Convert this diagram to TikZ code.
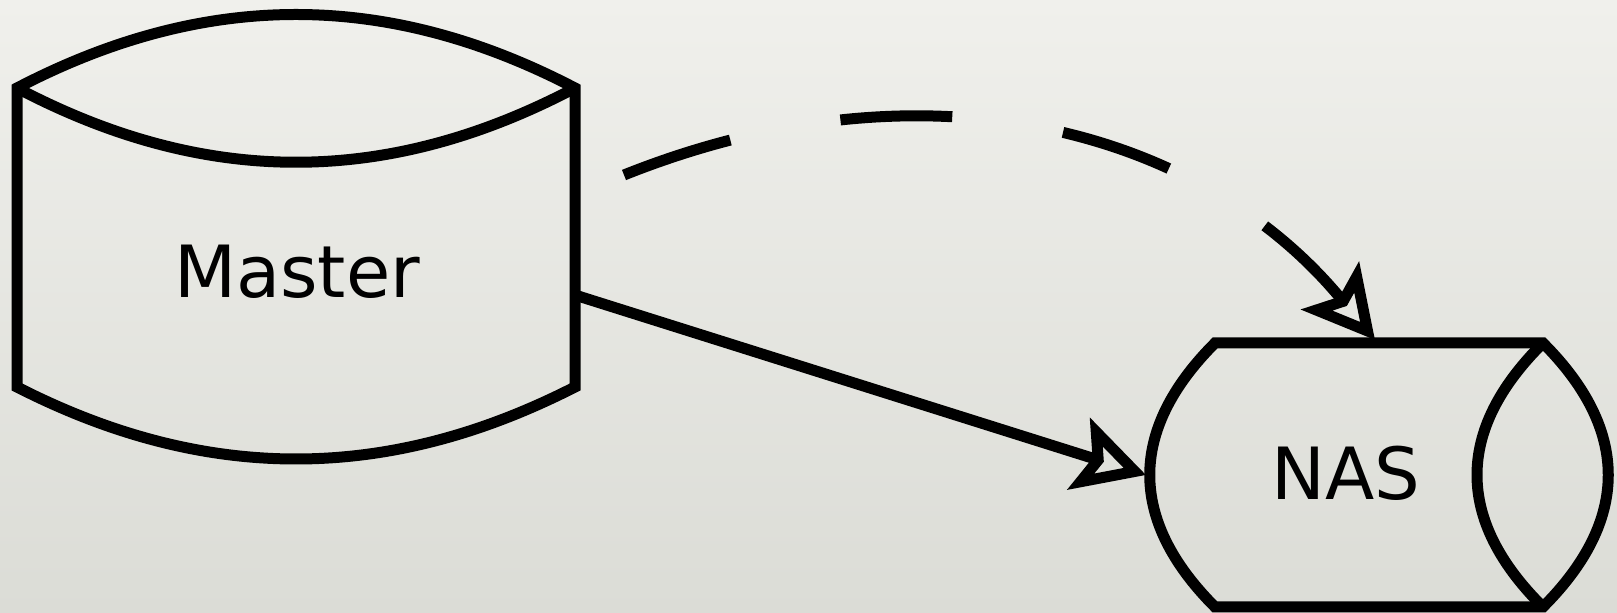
\documentclass[tikz,border=0pt]{standalone}
\usepackage{fontspec}
\setmainfont{DejaVu Sans}
\usetikzlibrary{arrows.meta,calc}
\definecolor{bgtop}{RGB}{240,240,236}
\definecolor{bgbot}{RGB}{219,220,214}
\begin{document}
\begin{tikzpicture}[x=0.5pt,y=-0.5pt,
  shapeline/.style={draw=black, line width=5.5pt, line join=miter},
  lbl/.style={font=\fontsize{36}{43}\selectfont, inner sep=0pt},
  frame/.style={inner sep=0pt, outer sep=0pt, draw=none},
  tipstyle/.style={draw=black, line width=5.5pt, line join=miter, -{Stealth[open, length=35pt, width=37pt, inset=7pt]}},
  ]
\shade[top color=bgtop, bottom color=bgbot] (0,0) rectangle (1617,613);
\useasboundingbox (0,0) rectangle (1617,613);
% frames
\node[frame, minimum width=279pt, minimum height=149.5pt] (master) at (296,237.5) {};
\node[frame, minimum width=229pt, minimum height=132pt] (nas) at (1379,475) {};
% Master cylinder
\draw[shapeline] (17,88) .. controls (205,-10) and (387,-10) .. (575,88)
  -- (575,387) .. controls (387,483) and (205,483) .. (17,387) -- cycle;
\draw[shapeline] (17,88) .. controls (205,187) and (387,187) .. (575,88);
% NAS cylinder
\draw[shapeline] (1215,343) -- (1543,343) .. controls (1630,430) and (1630,520) .. (1543,607)
  -- (1215,607) .. controls (1128,520) and (1128,430) .. (1215,343) -- cycle;
\draw[shapeline] (1543,343) .. controls (1455,430) and (1455,520) .. (1543,607);
% labels
\node[lbl] (mastertext) at (297,272) {Master};
\node[lbl] (nastext) at (1346,473) {NAS};
% connectors
\coordinate (dstart) at (624,175);
\draw[tipstyle] ($(master.east)+(3,58.5)$) -- ($(nas.west)+(-4,0)$);
\draw[tipstyle, dash pattern=on 56pt off 56pt] (dstart) .. controls (924,55) and (1200,128) .. ($(nas.north)+(-4,-3)$);
\end{tikzpicture}
\end{document}
